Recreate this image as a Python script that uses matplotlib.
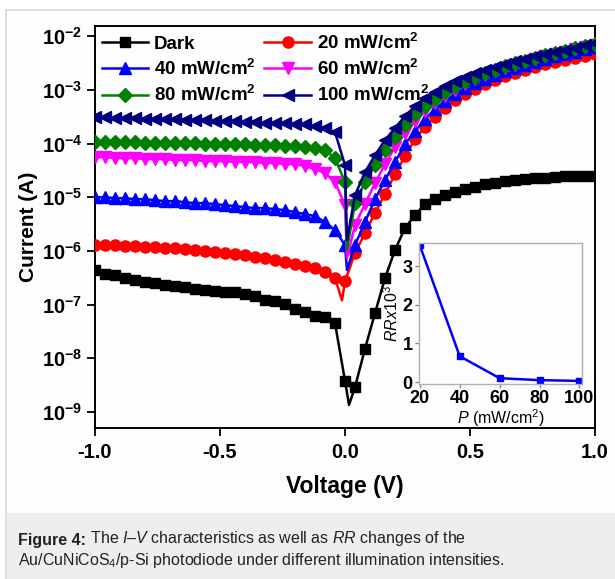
"""
I-V characteristics of the Au/CuNiCoS4/p-Si photodiode (Figure 4 recreation).
"""

import numpy as np
import matplotlib
matplotlib.use("Agg")
import matplotlib.pyplot as plt
from matplotlib.patches import Rectangle

plt.rcParams['font.family'] = ['Liberation Sans', 'DejaVu Sans']
plt.rcParams['mathtext.fontset'] = 'custom'
plt.rcParams['mathtext.rm'] = 'Liberation Sans'
plt.rcParams['mathtext.it'] = 'Liberation Sans:italic'
plt.rcParams['mathtext.bf'] = 'Liberation Sans:bold'
plt.rcParams['axes.unicode_minus'] = False

# ---- data ---------------------------------------------------------------
# bias voltage (V), one measured point every 40 mV
voltage = [-1.00, -0.96, -0.92, -0.88, -0.84, -0.80, -0.76, -0.72, -0.68, -0.64,
           -0.60, -0.56, -0.52, -0.48, -0.44, -0.40, -0.36, -0.32, -0.28, -0.24,
           -0.20, -0.16, -0.12, -0.08, -0.04, 0.00, 0.04, 0.08, 0.12, 0.16,
           0.20, 0.24, 0.28, 0.32, 0.36, 0.40, 0.44, 0.48, 0.52, 0.56,
           0.60, 0.64, 0.68, 0.72, 0.76, 0.80, 0.84, 0.88, 0.92, 0.96, 1.00]

# current (A)
i_dark = [4.4e-7, 3.7e-7, 3.55e-7, 3.1e-7, 2.86e-7, 2.62e-7, 2.52e-7, 2.31e-7, 2.21e-7, 2.12e-7,
          1.95e-7, 1.87e-7, 1.79e-7, 1.71e-7, 1.71e-7, 1.57e-7, 1.44e-7, 1.21e-7, 1.16e-7, 1.02e-7,
          8.3e-8, 7.3e-8, 6.1e-8, 5.9e-8, 4.5e-8, 3.8e-9, 2.9e-9, 1.5e-8, 6.9e-8, 3.1e-7,
          1.04e-6, 2.66e-6, 4.65e-6, 7.45e-6, 9.2e-6, 1.09e-5, 1.24e-5, 1.42e-5, 1.54e-5, 1.75e-5,
          1.83e-5, 2.0e-5, 2.08e-5, 2.17e-5, 2.27e-5, 2.27e-5, 2.37e-5, 2.47e-5, 2.47e-5, 2.47e-5, 2.47e-5]
i_20 = [1.28e-6, 1.28e-6, 1.28e-6, 1.23e-6, 1.23e-6, 1.18e-6, 1.18e-6, 1.13e-6, 1.13e-6, 1.08e-6,
        1.04e-6, 9.9e-7, 9.5e-7, 9.1e-7, 8.7e-7, 8.35e-7, 7.7e-7, 7.35e-7, 6.75e-7, 6.2e-7,
        5.7e-7, 5.2e-7, 4.8e-7, 4.0e-7, 3.1e-7, 2.7e-7, 9.1e-7, 2.15e-6, 5.1e-6, 1.14e-5,
        2.7e-5, 5.8e-5, 1.21e-4, 2.0e-4, 3.1e-4, 4.56e-4, 6.43e-4, 8.32e-4, 1.03e-3, 1.28e-3,
        1.52e-3, 1.8e-3, 2.05e-3, 2.33e-3, 2.65e-3, 3.0e-3, 3.3e-3, 3.57e-3, 3.9e-3, 4.25e-3, 4.6e-3]
i_40 = [1.0e-5, 1.0e-5, 9.6e-6, 9.6e-6, 9.2e-6, 9.2e-6, 8.8e-6, 8.45e-6, 8.45e-6, 8.1e-6,
        7.76e-6, 7.76e-6, 7.45e-6, 7.13e-6, 6.83e-6, 6.55e-6, 6.27e-6, 6.27e-6, 6.0e-6, 5.75e-6,
        5.28e-6, 4.85e-6, 4.45e-6, 3.44e-6, 2.44e-6, 1.28e-6, 1.28e-6, 3.44e-6, 9.2e-6, 2.08e-5,
        4.51e-5, 9.75e-5, 1.70e-4, 2.85e-4, 4.37e-4, 6.16e-4, 8.32e-4, 1.08e-3, 1.33e-3, 1.58e-3,
        1.88e-3, 2.23e-3, 2.54e-3, 2.88e-3, 3.28e-3, 3.73e-3, 4.25e-3, 4.62e-3, 5.04e-3, 5.73e-3, 6.24e-3]
i_60 = [5.58e-5, 5.58e-5, 5.35e-5, 5.35e-5, 5.35e-5, 5.13e-5, 5.13e-5, 5.13e-5, 4.91e-5, 4.91e-5,
        4.91e-5, 4.70e-5, 4.70e-5, 4.70e-5, 4.51e-5, 4.51e-5, 4.51e-5, 4.32e-5, 4.32e-5, 4.14e-5,
        4.14e-5, 3.79e-5, 3.34e-5, 2.81e-5, 1.91e-5, 7.13e-6, 3.03e-6, 7.45e-6, 1.83e-5, 4.14e-5,
        8.57e-5, 1.56e-4, 2.61e-4, 4.01e-4, 5.65e-4, 7.63e-4, 9.87e-4, 1.28e-3, 1.58e-3, 1.88e-3,
        2.23e-3, 2.54e-3, 2.88e-3, 3.28e-3, 3.73e-3, 4.25e-3, 4.62e-3, 5.04e-3, 5.73e-3, 6.24e-3, 6.8e-3]
i_80 = [1.06e-4, 1.06e-4, 1.06e-4, 1.06e-4, 1.06e-4, 1.02e-4, 1.02e-4, 1.02e-4, 1.02e-4, 1.02e-4,
        1.02e-4, 9.75e-5, 9.75e-5, 9.75e-5, 9.75e-5, 9.75e-5, 9.34e-5, 9.34e-5, 9.34e-5, 8.95e-5,
        8.95e-5, 8.57e-5, 8.21e-5, 7.54e-5, 5.35e-5, 1.91e-5, 7.76e-6, 1.91e-5, 3.96e-5, 7.54e-5,
        1.32e-4, 2.20e-4, 3.53e-4, 4.97e-4, 6.71e-4, 9.06e-4, 1.17e-3, 1.45e-3, 1.72e-3, 2.05e-3,
        2.33e-3, 2.76e-3, 3.14e-3, 3.42e-3, 3.89e-3, 4.43e-3, 4.82e-3, 5.26e-3, 5.98e-3, 6.51e-3, 7.10e-3]
i_100 = [3.10e-4, 3.10e-4, 2.97e-4, 2.97e-4, 2.97e-4, 2.85e-4, 2.85e-4, 2.85e-4, 2.85e-4, 2.73e-4,
         2.73e-4, 2.73e-4, 2.61e-4, 2.61e-4, 2.61e-4, 2.50e-4, 2.50e-4, 2.40e-4, 2.40e-4, 2.40e-4,
         2.30e-4, 2.30e-4, 2.11e-4, 1.94e-4, 1.63e-4, 3.96e-5, 1.09e-5, 2.94e-5, 6.08e-5, 1.16e-4,
         1.94e-4, 3.24e-4, 4.97e-4, 7.01e-4, 9.06e-4, 1.17e-3, 1.45e-3, 1.72e-3, 2.05e-3, 2.33e-3,
         2.65e-3, 3.0e-3, 3.42e-3, 3.73e-3, 4.25e-3, 4.62e-3, 5.04e-3, 5.48e-3, 5.98e-3, 6.8e-3, 7.41e-3]

# the sharp minimum of each curve near 0 V (line only, no marker there)
dip_voltage = [0.016, -0.012, 0.008, 0.008, 0.008, 0.008]
dip_current = [1.35e-9, 1.2e-7, 4.4e-7, 7.4e-7, 1.04e-6, 1.6e-6]

labels = ['Dark', '20 mW/cm$^{\\mathbf{2}}$', '40 mW/cm$^{\\mathbf{2}}$',
          '60 mW/cm$^{\\mathbf{2}}$', '80 mW/cm$^{\\mathbf{2}}$', '100 mW/cm$^{\\mathbf{2}}$']
colors = ['black', '#ff0000', '#0000ff', '#ff00ff', '#008000', '#000080']
markers = ['s', 'o', '^', 'v', 'D', '<']
msizes = [6.5, 8, 8, 8, 7, 8]

# inset: rectification ratio vs light power
power = [20, 40, 60, 80, 100]
rr_1e3 = [3.54, 0.67, 0.10, 0.05, 0.03]

x_ticks = [-1.0, -0.5, 0.0, 0.5, 1.0]
x_ticklabels = ['-1.0', '-0.5', '0.0', '0.5', '1.0']
y_exponents = [-9, -8, -7, -6, -5, -4, -3, -2]

# ---- figure ----------------------------------------------------------------
W, H = 615, 579
fig = plt.figure(figsize=(W / 100, H / 100), dpi=100)
fig.patch.set_facecolor('white')

# page-like panel and caption box (behind the axes)
fig.patches.append(Rectangle((6 / W, -0.01), 1.0, 1 - 10 / H + 0.01, transform=fig.transFigure,
                             facecolor='#fdfdfd', edgecolor='#dadada', linewidth=1.2, zorder=-10))
fig.patches.append(Rectangle((7 / W, -0.01), 1.0, (579 - 513) / H + 0.01, transform=fig.transFigure,
                             facecolor='#eeeeee', edgecolor='none', zorder=-9))

ax = fig.add_axes([95 / W, 1 - 428 / H, 500 / W, 402 / H])
ax.set_facecolor('#fdfdfd')

series = [i_dark, i_20, i_40, i_60, i_80, i_100]
handles = []
for k, cur in enumerate(series):
    v = np.array(voltage, dtype=float)
    c = np.array(cur, dtype=float)
    pos = int(np.searchsorted(v, dip_voltage[k]))
    v = np.insert(v, pos, dip_voltage[k])
    c = np.insert(c, pos, dip_current[k])
    keep = [j for j in range(len(v)) if j != pos]
    h, = ax.plot(v, c, color=colors[k], marker=markers[k], markersize=msizes[k],
                 markevery=keep, linewidth=1.8, label=labels[k], zorder=3 + k)
    handles.append(h)

ax.set_yscale('log')
ax.set_xlim(-1.0, 1.0)
ax.set_ylim(10 ** -9.3, 10 ** -1.81)
ax.set_xticks(x_ticks)
ax.set_xticklabels(x_ticklabels)
ax.set_yticks([10.0 ** e for e in y_exponents])
ax.set_yticklabels(['$\\mathbf{10^{%d}}$' % e for e in y_exponents])
ax.minorticks_off()
ax.tick_params(axis='x', direction='out', length=6, width=1.3, labelsize=14.5, pad=5)
ax.tick_params(axis='y', direction='out', length=6, width=1.3, labelsize=14.5, pad=3)
for lab in ax.get_xticklabels():
    lab.set_fontweight('bold')
for sp in ax.spines.values():
    sp.set_linewidth(1.4)

ax.set_xlabel('Voltage (V)', fontsize=16.5, fontweight='bold', labelpad=9)
ax.set_ylabel('Current (A)', fontsize=15, fontweight='bold', labelpad=3)

# legend: row-wise order Dark/20, 40/60, 80/100
order = [0, 2, 4, 1, 3, 5]
leg = ax.legend([handles[i] for i in order], [labels[i] for i in order], ncol=2,
                loc='upper left', bbox_to_anchor=(0.0, 1.0), frameon=False,
                prop={'weight': 'bold', 'size': 13.5}, handlelength=2.5,
                handletextpad=0.3, labelspacing=0.33, columnspacing=0.45,
                borderpad=0.25, borderaxespad=0.1)

# ---- inset -------------------------------------------------------------
axin = fig.add_axes([419 / W, 1 - 384 / H, 163 / W, 141 / H])
axin.set_facecolor('#fdfdfd')
axin.plot(power, rr_1e3, color='#0000ff', marker='s', markersize=4, linewidth=1.8)
axin.set_xlim(19.6, 101.3)
axin.set_ylim(-0.05, 3.6)
axin.set_xticks(power)
axin.set_yticks([0, 1, 2, 3])
axin.tick_params(direction='out', length=3, width=1, color='#888888', labelsize=13, pad=1.5)
for lab in axin.get_xticklabels() + axin.get_yticklabels():
    lab.set_fontweight('bold')
for sp in axin.spines.values():
    sp.set_color('#b0b0b0')
    sp.set_linewidth(1.0)
axin.set_xlabel('$\\it{P}$ (mW/cm$^{2}$)', fontsize=11.5, labelpad=0)
axin.set_ylabel('$\\it{RRx10^{3}}$', fontsize=11.5, labelpad=1)

# ---- caption -----------------------------------------------------------
cap1 = fig.text(18 / W, 1 - 548 / H, 'Figure 4:', fontsize=11.5, fontweight='bold',
                color='#222222', va='bottom')
ax.annotate(' The $\\it{I}$\u2013$\\it{V}$ characteristics as well as $\\it{RR}$ changes of the',
            xy=(1, 0), xycoords=cap1, va='bottom', ha='left', fontsize=11.5,
            color='#222222', annotation_clip=False)
fig.text(18 / W, 1 - 570 / H,
         'Au/CuNiCoS$_{4}$/p-Si photodiode under different illumination intensities.',
         fontsize=11.5, color='#222222', va='bottom')

fig.savefig('out.png', dpi=100)
